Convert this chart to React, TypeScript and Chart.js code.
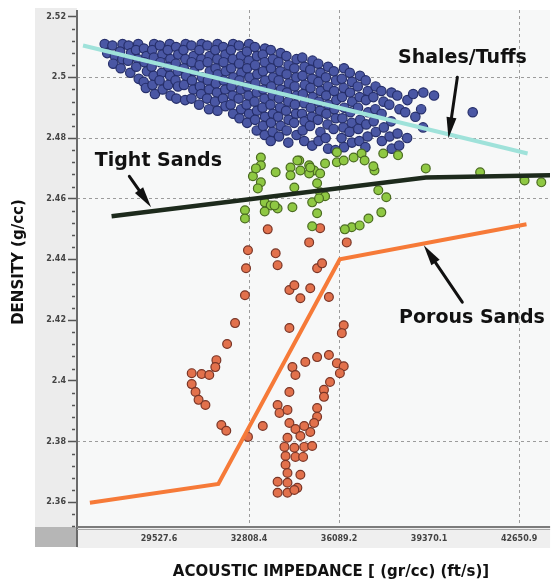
import React, { useEffect, useRef } from "react";
import { Chart, registerables } from "chart.js";

Chart.register(...registerables);

// ---- axes ----
const densityTicks = [2.36, 2.38, 2.4, 2.42, 2.44, 2.46, 2.48, 2.5, 2.52];
const densityTickLabels = ["2.36", "2.38", "2.4", "2.42", "2.44", "2.46", "2.48", "2.5", "2.52"];
const densityGridValues = [2.38, 2.46, 2.48, 2.5];
const densityMin = 2.3518;
const densityMax = 2.5222;

const impedanceTicks = [29527.6, 32808.4, 36089.2, 39370.1, 42650.9];
const impedanceTickLabels = ["29527.6", "32808.4", "36089.2", "39370.1", "42650.9"];
const impedanceGridValues = [32808.4, 36089.2, 42650.9];
const impedanceMin = 26540;
const impedanceMax = 43780;

// ---- shales / tuffs samples [impedance, density] ----
const shalesTuffsPoints: [number, number][] = [
  [27550, 2.511], [27640, 2.508],
  [27830, 2.5105], [27920, 2.507], [27860, 2.5045],
  [28200, 2.511], [28110, 2.5085], [28190, 2.506], [28130, 2.503],
  [28420, 2.5105], [28510, 2.508], [28400, 2.5055], [28480, 2.5015],
  [28770, 2.511], [28690, 2.509], [28760, 2.506], [28700, 2.5035], [28790, 2.4995],
  [28980, 2.5095], [29070, 2.507], [29000, 2.505], [29090, 2.502], [28970, 2.4985], [29050, 2.4965],
  [29350, 2.511], [29280, 2.509], [29340, 2.5065], [29260, 2.5035], [29330, 2.5005], [29290, 2.4975], [29380, 2.4945],
  [29560, 2.5105], [29650, 2.5075], [29580, 2.505], [29630, 2.5015], [29550, 2.499], [29660, 2.496],
  [29920, 2.511], [29850, 2.509], [29940, 2.506], [29870, 2.5035], [29930, 2.5005], [29860, 2.4975], [29950, 2.494],
  [30150, 2.51], [30230, 2.5075], [30140, 2.5045], [30210, 2.502], [30130, 2.499], [30220, 2.497], [30160, 2.493],
  [30500, 2.511], [30420, 2.509], [30490, 2.506], [30430, 2.503], [30510, 2.5005], [30440, 2.4975], [30480, 2.4925],
  [30710, 2.5105], [30790, 2.507], [30720, 2.505], [30800, 2.502], [30730, 2.499], [30780, 2.496], [30710, 2.493],
  [31080, 2.511], [31000, 2.509], [31070, 2.506], [31010, 2.504], [31090, 2.5], [31020, 2.497], [31060, 2.4945], [30990, 2.491],
  [31290, 2.5105], [31370, 2.507], [31300, 2.505], [31380, 2.502], [31310, 2.499], [31360, 2.496], [31280, 2.493], [31350, 2.4895],
  [31660, 2.511], [31580, 2.509], [31650, 2.506], [31590, 2.503], [31670, 2.501], [31600, 2.498], [31640, 2.495], [31570, 2.492], [31660, 2.489],
  [31870, 2.51], [31950, 2.5075], [31880, 2.505], [31960, 2.502], [31890, 2.499], [31940, 2.496], [31860, 2.493], [31950, 2.4905],
  [32230, 2.511], [32150, 2.509], [32220, 2.506], [32160, 2.503], [32240, 2.5], [32170, 2.497], [32210, 2.494], [32140, 2.491], [32230, 2.488],
  [32440, 2.5105], [32520, 2.507], [32450, 2.5045], [32530, 2.5015], [32460, 2.499], [32510, 2.496], [32430, 2.493], [32520, 2.4895], [32460, 2.4865],
  [32810, 2.511], [32730, 2.5085], [32800, 2.5055], [32740, 2.503], [32820, 2.5], [32750, 2.497], [32790, 2.494], [32720, 2.491], [32810, 2.488], [32740, 2.485],
  [33020, 2.51], [33100, 2.507], [33030, 2.504], [33110, 2.501], [33040, 2.498], [33090, 2.495], [33010, 2.492], [33100, 2.489], [33030, 2.486], [33090, 2.4825],
  [33390, 2.5095], [33310, 2.5075], [33380, 2.505], [33320, 2.502], [33400, 2.499], [33330, 2.496], [33370, 2.493], [33300, 2.49], [33390, 2.487], [33320, 2.484], [33380, 2.481],
  [33600, 2.509], [33680, 2.506], [33610, 2.503], [33690, 2.5], [33620, 2.497], [33670, 2.494], [33590, 2.491], [33680, 2.488], [33610, 2.485], [33670, 2.482], [33600, 2.479],
  [33960, 2.508], [33880, 2.505], [33950, 2.502], [33890, 2.499], [33970, 2.496], [33900, 2.493], [33940, 2.49], [33870, 2.487], [33960, 2.484], [33900, 2.4805],
  [34170, 2.507], [34250, 2.504], [34180, 2.501], [34260, 2.498], [34190, 2.495], [34240, 2.492], [34160, 2.489], [34250, 2.486], [34180, 2.4825], [34240, 2.4785],
  [34540, 2.506], [34460, 2.503], [34530, 2.5], [34470, 2.497], [34550, 2.494], [34480, 2.491], [34520, 2.488], [34450, 2.485], [34540, 2.481],
  [34750, 2.5065], [34830, 2.5035], [34760, 2.5005], [34840, 2.4975], [34770, 2.4945], [34820, 2.4915], [34740, 2.488], [34830, 2.4855], [34760, 2.4825], [34820, 2.479],
  [35120, 2.5055], [35040, 2.5025], [35110, 2.4995], [35050, 2.4965], [35130, 2.4935], [35060, 2.49], [35100, 2.487], [35030, 2.484], [35110, 2.4775],
  [35330, 2.5045], [35410, 2.5015], [35340, 2.4985], [35420, 2.4955], [35350, 2.492], [35400, 2.489], [35320, 2.486], [35410, 2.482], [35340, 2.479],
  [35690, 2.5035], [35610, 2.5], [35680, 2.497], [35620, 2.494], [35700, 2.491], [35630, 2.488], [35670, 2.4845], [35600, 2.48], [35690, 2.4765],
  [35900, 2.502], [35980, 2.499], [35910, 2.4955], [35990, 2.4925], [35920, 2.4895], [35970, 2.4865], [35890, 2.483], [35960, 2.476],
  [36270, 2.503], [36190, 2.4995], [36260, 2.4965], [36200, 2.4935], [36280, 2.49], [36210, 2.4865], [36250, 2.4835], [36180, 2.48], [36270, 2.477],
  [36480, 2.5015], [36560, 2.4985], [36490, 2.495], [36570, 2.492], [36500, 2.4885], [36550, 2.485], [36470, 2.482], [36560, 2.4785],
  [36850, 2.5005], [36770, 2.497], [36840, 2.4935], [36780, 2.49], [36860, 2.486], [36790, 2.483], [36830, 2.479],
  [37060, 2.499], [37140, 2.4955], [37070, 2.4925], [37150, 2.4885], [37080, 2.4845], [37130, 2.4805], [37050, 2.477],
  [37420, 2.497], [37340, 2.4935], [37410, 2.4895], [37350, 2.4855], [37430, 2.482],
  [37630, 2.4955], [37710, 2.492], [37640, 2.488], [37720, 2.4835], [37650, 2.479],
  [38000, 2.495], [37920, 2.491], [37990, 2.4855], [37930, 2.4805], [38010, 2.4765],
  [38210, 2.494], [38290, 2.4895], [38220, 2.4815], [38280, 2.4775],
  [38580, 2.4925], [38500, 2.4885], [38570, 2.48],
  [38790, 2.4945], [38870, 2.487],
  [39160, 2.495], [39080, 2.4895], [39150, 2.4835],
  [39550, 2.494],
  [40960, 2.4885],
];

// ---- tight sands samples [impedance, density] ----
const tightSandsPoints: [number, number][] = [
  [33240, 2.4736], [33240, 2.471], [33780, 2.4687], [34320, 2.4703], [34640, 2.4726],
  [34680, 2.4693], [35000, 2.471], [35180, 2.4693], [35400, 2.4683], [35000, 2.4683],
  [34320, 2.4677], [33240, 2.4654], [33130, 2.4634], [34460, 2.4637], [35290, 2.4651],
  [35400, 2.4621], [35580, 2.4608], [33380, 2.4588], [33600, 2.4578], [33850, 2.4568],
  [33380, 2.4558], [32660, 2.4562], [32660, 2.4535], [34390, 2.4572], [35110, 2.4588],
  [35360, 2.4601], [35290, 2.4552], [35110, 2.4509], [36010, 2.4753], [36010, 2.472],
  [36620, 2.4736], [36910, 2.4749], [37020, 2.4726], [37700, 2.4749], [38240, 2.4743],
  [37380, 2.4693], [37520, 2.4628], [37810, 2.4605], [37630, 2.4555], [37160, 2.4535],
  [36550, 2.4506], [36840, 2.4512], [36300, 2.4499], [39250, 2.47], [41230, 2.4687],
  [42850, 2.466], [43460, 2.4654], [34570, 2.4726], [35040, 2.4703], [35580, 2.4716],
  [36260, 2.4726], [37340, 2.4707], [32950, 2.4674], [33060, 2.47], [33740, 2.4578],
];

// ---- porous sands samples [impedance, density] ----
const porousSandsPoints: [number, number][] = [
  [33490, 2.4499], [35000, 2.4456], [36370, 2.4456], [35400, 2.4503], [32770, 2.443],
  [33780, 2.442], [33850, 2.4381], [32700, 2.4371], [35290, 2.4371], [35470, 2.4387],
  [32660, 2.4282], [34280, 2.4299], [34460, 2.4315], [35040, 2.4305], [34680, 2.4272],
  [35720, 2.4276], [32300, 2.419], [34280, 2.4174], [36260, 2.4183], [36190, 2.4157],
  [32010, 2.4121], [31620, 2.4068], [31580, 2.4045], [30720, 2.4025], [31080, 2.4022],
  [31360, 2.4019], [30720, 2.3989], [30860, 2.3963], [30970, 2.3937], [31220, 2.392],
  [34390, 2.4045], [34860, 2.4062], [35290, 2.4078], [35720, 2.4085], [36010, 2.4058],
  [36260, 2.4048], [34500, 2.4019], [36120, 2.4025], [35760, 2.3996], [35540, 2.397],
  [35540, 2.3947], [34280, 2.3963], [31800, 2.3854], [31980, 2.3835], [33310, 2.3851],
  [33850, 2.392], [33920, 2.3894], [34210, 2.3904], [35290, 2.391], [35290, 2.3881],
  [35180, 2.3861], [35040, 2.3831], [34280, 2.3861], [34500, 2.3841], [34820, 2.3851],
  [34680, 2.3818], [34210, 2.3812], [34100, 2.3782], [34460, 2.3779], [34820, 2.3782],
  [35110, 2.3785], [34140, 2.3752], [34500, 2.3749], [34780, 2.3749], [34140, 2.3723],
  [34210, 2.3696], [34680, 2.369], [33850, 2.3667], [34210, 2.3664], [34570, 2.3647],
  [33850, 2.3631], [34210, 2.3631], [34460, 2.364], [32770, 2.3815],
];

// ---- trend lines ----
const shalesTuffsTrend: [number, number][] = [[26760, 2.5105], [42960, 2.4749]];
const tightSandsTrend: [number, number][] = [[27800, 2.4542], [39250, 2.467], [43780, 2.4677]];
const porousSandsTrend: [number, number][] = [[27010, 2.3598], [31690, 2.366], [36116, 2.44], [42920, 2.4516]];

// ---- callouts: label anchor, arrow tail, arrow tip (data units) ----
const callouts = [
  { text: "Shales/Tuffs", at: [38240, 2.5062], tail: [40400, 2.5], tip: [40076, 2.4799] },
  { text: "Tight Sands", at: [27188, 2.4723], tail: [28448, 2.4674], tip: [29240, 2.4572] },
  { text: "Porous Sands", at: [38276, 2.4206], tail: [40580, 2.4259], tip: [39176, 2.4447] },
];

const FONT = "'DejaVu Sans', 'Liberation Sans', sans-serif";

const toXY = (pts: [number, number][]) => pts.map(([x, y]) => ({ x, y }));

function drawArrow(ctx: CanvasRenderingContext2D, x1: number, y1: number, x2: number, y2: number) {
  const ang = Math.atan2(y2 - y1, x2 - x1);
  const headLen = 21;
  const headHalf = 5;
  const bx = x2 - headLen * Math.cos(ang);
  const by = y2 - headLen * Math.sin(ang);
  ctx.strokeStyle = "#111";
  ctx.fillStyle = "#111";
  ctx.lineWidth = 3;
  ctx.lineCap = "round";
  ctx.beginPath();
  ctx.moveTo(x1, y1);
  ctx.lineTo(bx, by);
  ctx.stroke();
  ctx.beginPath();
  ctx.moveTo(x2, y2);
  ctx.lineTo(bx + headHalf * Math.sin(ang), by - headHalf * Math.cos(ang));
  ctx.lineTo(bx - headHalf * Math.sin(ang), by + headHalf * Math.cos(ang));
  ctx.closePath();
  ctx.fill();
}

const framePlugin = {
  id: "frame",
  beforeDraw(chart: any) {
    const { ctx, chartArea: a } = chart;
    ctx.save();
    // tick label panels
    ctx.fillStyle = "#ececec";
    ctx.fillRect(35, 8, a.left - 35, a.bottom + 20 - 8);
    ctx.fillStyle = "#efefef";
    ctx.fillRect(a.left, a.bottom, a.right - a.left, 21);
    ctx.fillStyle = "#b6b6b6";
    ctx.fillRect(35, a.bottom, a.left - 35, 20);
    // plot area
    ctx.fillStyle = "#f7f8f8";
    ctx.fillRect(a.left, a.top, a.right - a.left, a.bottom - a.top);
    ctx.restore();
  },
  afterDraw(chart: any) {
    const { ctx, chartArea: a, scales } = chart;
    const xs = scales.x;
    const ys = scales.y;
    ctx.save();

    // minor density ticks between the labelled ones
    ctx.strokeStyle = "#555";
    ctx.lineWidth = 1.5;
    for (let i = 0; i < densityTicks.length; i++) {
      for (let k = 1; k < 5; k++) {
        const v = densityTicks[i] - k * 0.004;
        if (v < densityMin) continue;
        const py = Math.round(ys.getPixelForValue(v)) + 0.5;
        ctx.beginPath();
        ctx.moveTo(a.left - 5, py);
        ctx.lineTo(a.left - 2, py);
        ctx.stroke();
      }
    }

    // axis lines
    ctx.strokeStyle = "#6a6a6a";
    ctx.lineWidth = 2;
    ctx.beginPath();
    ctx.moveTo(a.left, a.top);
    ctx.lineTo(a.left, a.bottom + 20);
    ctx.stroke();
    ctx.strokeStyle = "#7b7b7b";
    ctx.beginPath();
    ctx.moveTo(a.left, a.bottom);
    ctx.lineTo(a.right, a.bottom);
    ctx.stroke();
    ctx.strokeStyle = "#a8a8a8";
    ctx.lineWidth = 1;
    ctx.beginPath();
    ctx.moveTo(a.left, a.bottom + 2.5);
    ctx.lineTo(a.right, a.bottom + 2.5);
    ctx.stroke();

    // callouts
    ctx.font = `bold 19px ${FONT}`;
    ctx.textBaseline = "middle";
    ctx.textAlign = "left";
    ctx.fillStyle = "#111";
    for (const c of callouts) {
      ctx.fillText(c.text, xs.getPixelForValue(c.at[0]), ys.getPixelForValue(c.at[1]));
      drawArrow(
        ctx,
        xs.getPixelForValue(c.tail[0]),
        ys.getPixelForValue(c.tail[1]),
        xs.getPixelForValue(c.tip[0]),
        ys.getPixelForValue(c.tip[1])
      );
    }

    // axis titles
    ctx.fillStyle = "#111";
    ctx.font = `bold 15px ${FONT}`;
    ctx.textAlign = "center";
    ctx.textBaseline = "middle";
    ctx.fillText("ACOUSTIC IMPEDANCE [ (gr/cc) (ft/s)]", 331, 572);
    ctx.translate(19, 262);
    ctx.rotate(-Math.PI / 2);
    ctx.fillText("DENSITY (g/cc)", 0, 0);
    ctx.restore();
  },
};

const pointStyle = (fill: string, border: string, radius: number) => ({
  showLine: false,
  pointRadius: radius,
  pointBorderWidth: 1.2,
  pointBackgroundColor: fill,
  pointBorderColor: border,
  backgroundColor: fill,
  borderColor: border,
});

const lineStyle = (color: string, width: number) => ({
  showLine: true,
  pointRadius: 0,
  borderColor: color,
  backgroundColor: color,
  borderWidth: width,
  tension: 0,
  fill: false,
  order: 0,
});

export default function App() {
  const canvasRef = useRef<HTMLCanvasElement>(null);

  useEffect(() => {
    const canvas = canvasRef.current;
    if (!canvas) return;

    const chart = new Chart(canvas, {
      type: "scatter",
      data: {
        datasets: [
          { label: "Shales/Tuffs", data: toXY(shalesTuffsPoints), ...pointStyle("#4a57a4", "#262f6b", 4.7), order: 3 },
          { label: "Tight Sands", data: toXY(tightSandsPoints), ...pointStyle("#8fc843", "#4a6b20", 4.4), order: 2 },
          { label: "Porous Sands", data: toXY(porousSandsPoints), ...pointStyle("#e2714c", "#7a3526", 4.4), order: 2 },
          { label: "Shales/Tuffs trend", data: toXY(shalesTuffsTrend), ...lineStyle("#9fe2da", 4) },
          { label: "Tight Sands trend", data: toXY(tightSandsTrend), ...lineStyle("#1d2a1c", 4.5) },
          { label: "Porous Sands trend", data: toXY(porousSandsTrend), ...lineStyle("#f67a38", 4) },
        ] as any,
      },
      options: {
        animation: false,
        responsive: false,
        devicePixelRatio: 1,
        layout: { padding: { top: 10, left: 0, right: 0, bottom: 0 } },
        plugins: { legend: { display: false }, tooltip: { enabled: false } },
        scales: {
          x: {
            type: "linear",
            min: impedanceMin,
            max: impedanceMax,
            afterBuildTicks: (s: any) => {
              s.ticks = impedanceTicks.map((value) => ({ value }));
            },
            afterFit: (s: any) => {
              s.height = 54;
            },
            ticks: {
              autoSkip: false,
              maxRotation: 0,
              padding: 7,
              color: "#444",
              font: { family: FONT, size: 8, weight: "bold" },
              callback: (v: any) => impedanceTickLabels[impedanceTicks.indexOf(v)] ?? "",
            },
            grid: {
              drawTicks: false,
              lineWidth: 1,
              color: (c: any) =>
                c.tick && impedanceGridValues.includes(c.tick.value) ? "#9c9c9c" : "rgba(0,0,0,0)",
            },
            border: { display: false, dash: [3, 3] },
          },
          y: {
            type: "linear",
            min: densityMin,
            max: densityMax,
            afterBuildTicks: (s: any) => {
              s.ticks = densityTicks.map((value) => ({ value }));
            },
            afterFit: (s: any) => {
              s.width = 77;
            },
            ticks: {
              autoSkip: false,
              padding: 2,
              color: "#444",
              font: { family: FONT, size: 8, weight: "bold" },
              callback: (v: any) => densityTickLabels[densityTicks.indexOf(v)] ?? "",
            },
            grid: {
              drawTicks: true,
              tickLength: 9,
              tickColor: "#555",
              tickWidth: 1.5,
              lineWidth: 1,
              color: (c: any) =>
                c.tick && densityGridValues.includes(c.tick.value) ? "#9c9c9c" : "rgba(0,0,0,0)",
            },
            border: { display: false, dash: [3, 3] },
          },
        },
      } as any,
      plugins: [framePlugin],
    });
    return () => chart.destroy();
  }, []);

  return (
    <div style={{ position: "absolute", left: 0, top: 0, width: 556, height: 581, background: "#ffffff" }}>
      <canvas ref={canvasRef} width={556} height={581} style={{ display: "block" }} />
    </div>
  );
}
